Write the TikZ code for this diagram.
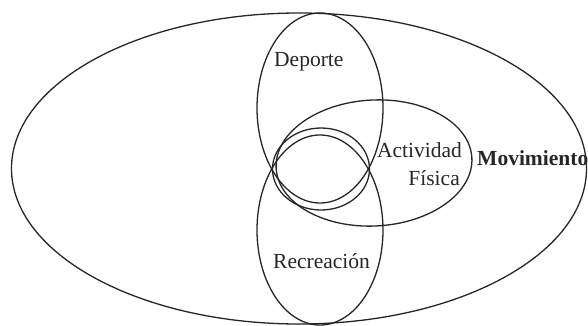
\documentclass[tikz,border=0pt]{standalone}
\usepackage{fontspec}
\setmainfont{Liberation Serif}
\begin{document}
\begin{tikzpicture}[x=1pt,y=-1pt,
  ring/.style={draw=black!85, line width=1.3pt},
  lbl/.style={inner sep=0pt, text=black!85, font=\fontsize{21.5}{26}\selectfont}]
\useasboundingbox (0,0) rectangle (588,326);
\draw[ring] (299,168.5) ellipse [x radius=287.5, y radius=155.5];
\draw[ring] (320,108) ellipse [x radius=63, y radius=95];
\draw[ring] (320,230) ellipse [x radius=63, y radius=95];
\draw[ring] (321,169) ellipse [x radius=48.5, y radius=41];
\draw[ring, rotate around={3:(374,163)}] (374,163) ellipse [x radius=98, y radius=63];
\node[lbl, anchor=base west] (dep) at (274,67) {Deporte};
\node[lbl, anchor=base east] (act1) at (462,157) {Actividad};
\node[lbl, anchor=base east] (act2) at (460,185) {Física};
\node[lbl, anchor=base west] (rec) at (273,268) {Recreación};
\node[lbl, anchor=base west, font=\fontsize{21.5}{26}\selectfont\bfseries] (mov) at (477,165) {Movimiento};
\end{tikzpicture}
\end{document}
